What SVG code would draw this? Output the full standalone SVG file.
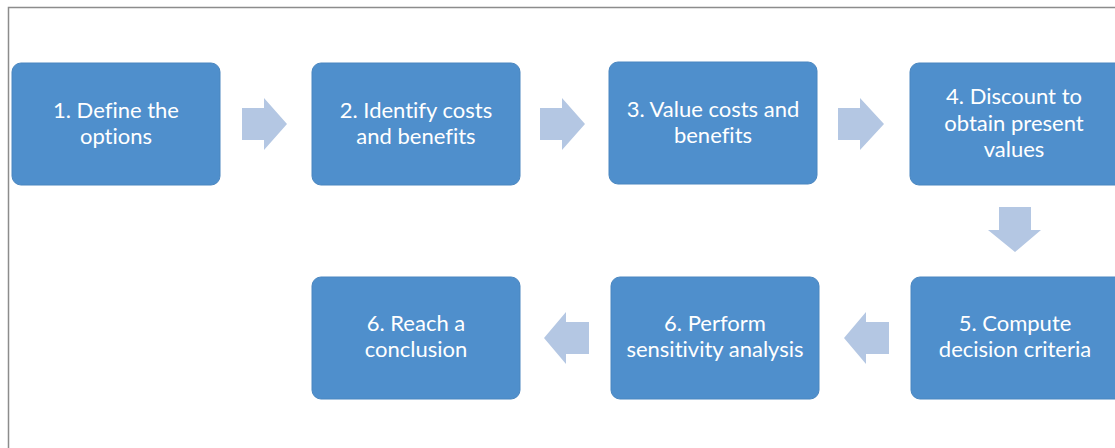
<svg xmlns="http://www.w3.org/2000/svg" width="1115" height="448" viewBox="0 0 1115 448">
  <style>
    .box { fill: #4f8fcc; stroke: #4a86c0; stroke-width: 1; }
    .lbl { fill: #ffffff; font-family: Lato, "Liberation Sans", sans-serif; font-size: 22px; text-anchor: middle; font-variant-ligatures: none; }
    .arrow { fill: #b4c7e3; }
  </style>
  <rect width="1115" height="448" fill="#ffffff"/>
  <!-- frame -->
  <path d="M8.5 448 V7.5 H1115" fill="none" stroke="#8c8c8c" stroke-width="1.5"/>

  <g id="connectors">
    <polygon class="arrow" points="242,108 264,108 264,98 287,124 264,150 264,140 242,140"/>
    <polygon class="arrow" points="540,108 562,108 562,98 585,124 562,150 562,140 540,140"/>
    <polygon class="arrow" points="838,108 860,108 860,98 884,124 860,150 860,140 838,140"/>
    <polygon class="arrow" points="999,207 1031,207 1031,230 1041,230 1015,252 988,230 999,230"/>
    <polygon class="arrow" points="889,322 866,322 866,312 844,338 866,364 866,354 889,354"/>
    <polygon class="arrow" points="589,322 566,322 566,312 544,338 566,364 566,354 589,354"/>
  </g>

  <g id="node1">
    <rect class="box" x="12" y="63" width="208" height="122" rx="9"/>
    <text class="lbl" x="116" y="118">1. Define the</text>
    <text class="lbl" x="116" y="144">options</text>
  </g>
  <g id="node2">
    <rect class="box" x="312" y="63" width="208" height="122" rx="9"/>
    <text class="lbl" x="416" y="118">2. Identify costs</text>
    <text class="lbl" x="416" y="144">and benefits</text>
  </g>
  <g id="node3">
    <rect class="box" x="609" y="62" width="208" height="122" rx="9"/>
    <text class="lbl" x="713" y="117">3. Value costs and</text>
    <text class="lbl" x="713" y="143">benefits</text>
  </g>
  <g id="node4">
    <rect class="box" x="910" y="63" width="214" height="122" rx="9"/>
    <text class="lbl" x="1014" y="104">4. Discount to</text>
    <text class="lbl" x="1014" y="131">obtain present</text>
    <text class="lbl" x="1014" y="157">values</text>
  </g>
  <g id="node5">
    <rect class="box" x="911" y="277" width="214" height="122" rx="9"/>
    <text class="lbl" x="1015" y="331">5. Compute</text>
    <text class="lbl" x="1015" y="357">decision criteria</text>
  </g>
  <g id="node6">
    <rect class="box" x="611" y="277" width="208" height="122" rx="9"/>
    <text class="lbl" x="715" y="331">6. Perform</text>
    <text class="lbl" x="715" y="357">sensitivity analysis</text>
  </g>
  <g id="node7">
    <rect class="box" x="312" y="277" width="208" height="122" rx="9"/>
    <text class="lbl" x="416" y="331">6. Reach a</text>
    <text class="lbl" x="416" y="357">conclusion</text>
  </g>
</svg>
